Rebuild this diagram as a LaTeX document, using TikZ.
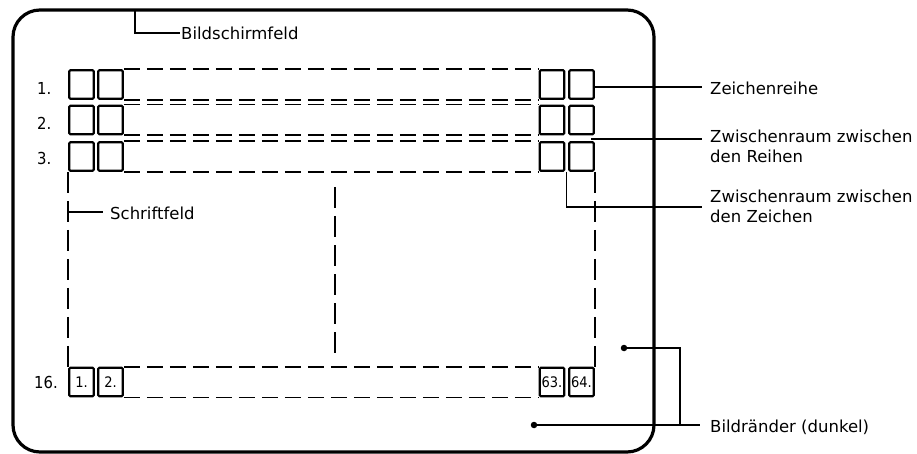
\documentclass[tikz,border=0pt]{standalone}
\usepackage{fontspec}
\usetikzlibrary{calc}
\setmainfont{DejaVu Sans}
\newfontfamily\condfont{DejaVu Sans Condensed}
\tikzset{
  cell/.style={draw, line width=2.1pt, rounded corners=1.2pt, minimum width=24.5pt, minimum height=28.5pt, inner sep=0pt},
  grid/.style={line width=1.6pt, dash pattern=on 16pt off 7pt},
  vgrid/.style={line width=1.5pt, dash pattern=on 21pt off 8pt},
  lead/.style={line width=1.1pt},
  lbl/.style={font=\fontsize{16.5}{20}\selectfont, inner sep=0pt, anchor=base west},
  mlbl/.style={font=\fontsize{16.5}{20}\selectfont, inner sep=0pt, anchor=north west, align=left},
  rowlbl/.style={font=\condfont\fontsize{16.5}{18}\selectfont, inner sep=0pt, anchor=base west},
  num/.style={font=\condfont\fontsize{14.5}{16}\selectfont},
  dot/.style={circle, fill, inner sep=0pt, minimum size=6.5pt}
}
\begin{document}
\begin{tikzpicture}[x=1pt,y=-1pt]
\useasboundingbox[fill=white] (0,0) rectangle (917,454);
% screen frame
\node[draw, line width=3.2pt, rounded corners=27pt, minimum width=641pt, minimum height=442pt, inner sep=0pt] (screen) at (333.5,231) {};
% character cells rows 1-3
\foreach \r/\y in {1/84.5,2/120,3/156.5}{
  \node[cell] (c\r1) at (81.5,\y) {};
  \node[cell] (c\r2) at (110.5,\y) {};
  \node[cell] (c\r3) at (552,\y) {};
  \node[cell] (c\r4) at (581.5,\y) {};
  \draw[grid] (c\r2.north east) -- (c\r3.north west);
  \draw[grid] (c\r2.south east) -- (c\r3.south west);
}
% row 16
\node[cell,num] (p1) at (81.5,382) {1.};
\node[cell,num] (p2) at (110.5,382) {2.};
\node[cell,num] (p3) at (552,382) {63.};
\node[cell,num] (p4) at (581.5,382) {64.};
\draw[grid] (p2.north east) -- (p3.north west);
\draw[grid] (p2.south east) -- (p3.south west);
% vertical dashed lines
\draw[vgrid] (c31.south west) -- (p1.north west);
\draw[vgrid] (c34.south east) -- (p4.north east);
\coordinate (mt) at (335,187);
\coordinate (mb) at (335,356);
\draw[vgrid, line width=1.3pt] (mt) -- (mb);
% row labels
\node[rowlbl] (r1) at (37,95) {1.};
\node[rowlbl] (r2) at (37,130) {2.};
\node[rowlbl] (r3) at (37,165) {3.};
\node[rowlbl] (r16) at (34,388) {16.};
% Bildschirmfeld
\coordinate (bs0) at (135,10);
\coordinate (bs1) at (180,33);
\draw[lead] (bs0) |- (bs1);
\node[lbl] (tbs) at (181,40) {Bildschirmfeld};
% Schriftfeld
\coordinate (sf0) at (69,212);
\coordinate (sf1) at (103,212);
\draw[lead] (sf0) -- (sf1);
\node[lbl] (tsf) at (110,220) {Schriftfeld};
% Zeichenreihe
\coordinate (zr0) at (594,87);
\coordinate (zr1) at (702,87);
\draw[lead] (zr0) -- (zr1);
\node[lbl] (tzr) at (710,95) {Zeichenreihe};
% Zwischenraum Reihen
\coordinate (zw0) at (591,139);
\coordinate (zw1) at (702,139);
\draw[lead] (zw0) -- (zw1);
\node[mlbl] (tzw) at (710,129.5) {Zwischenraum zwischen\\den Reihen};
% Zwischenraum Zeichen
\coordinate (zz0) at ($(c33.south east)!0.5!(c34.south west)$);
\coordinate (zz1) at (702,207);
\draw[lead] (zz0) |- (zz1);
\node[mlbl] (tzz) at (710,189.5) {Zwischenraum zwischen\\den Zeichen};
% Bildraender
\node[dot] (d1) at (624,348) {};
\node[dot] (d2) at (534,425) {};
\coordinate (br0) at (680,425);
\coordinate (br1) at (700,425);
\draw[lead] (d1) -| (br0);
\draw[lead] (d2) -- (br1);
\node[lbl] (tbr) at (710,432) {Bildränder (dunkel)};
\end{tikzpicture}
\end{document}
